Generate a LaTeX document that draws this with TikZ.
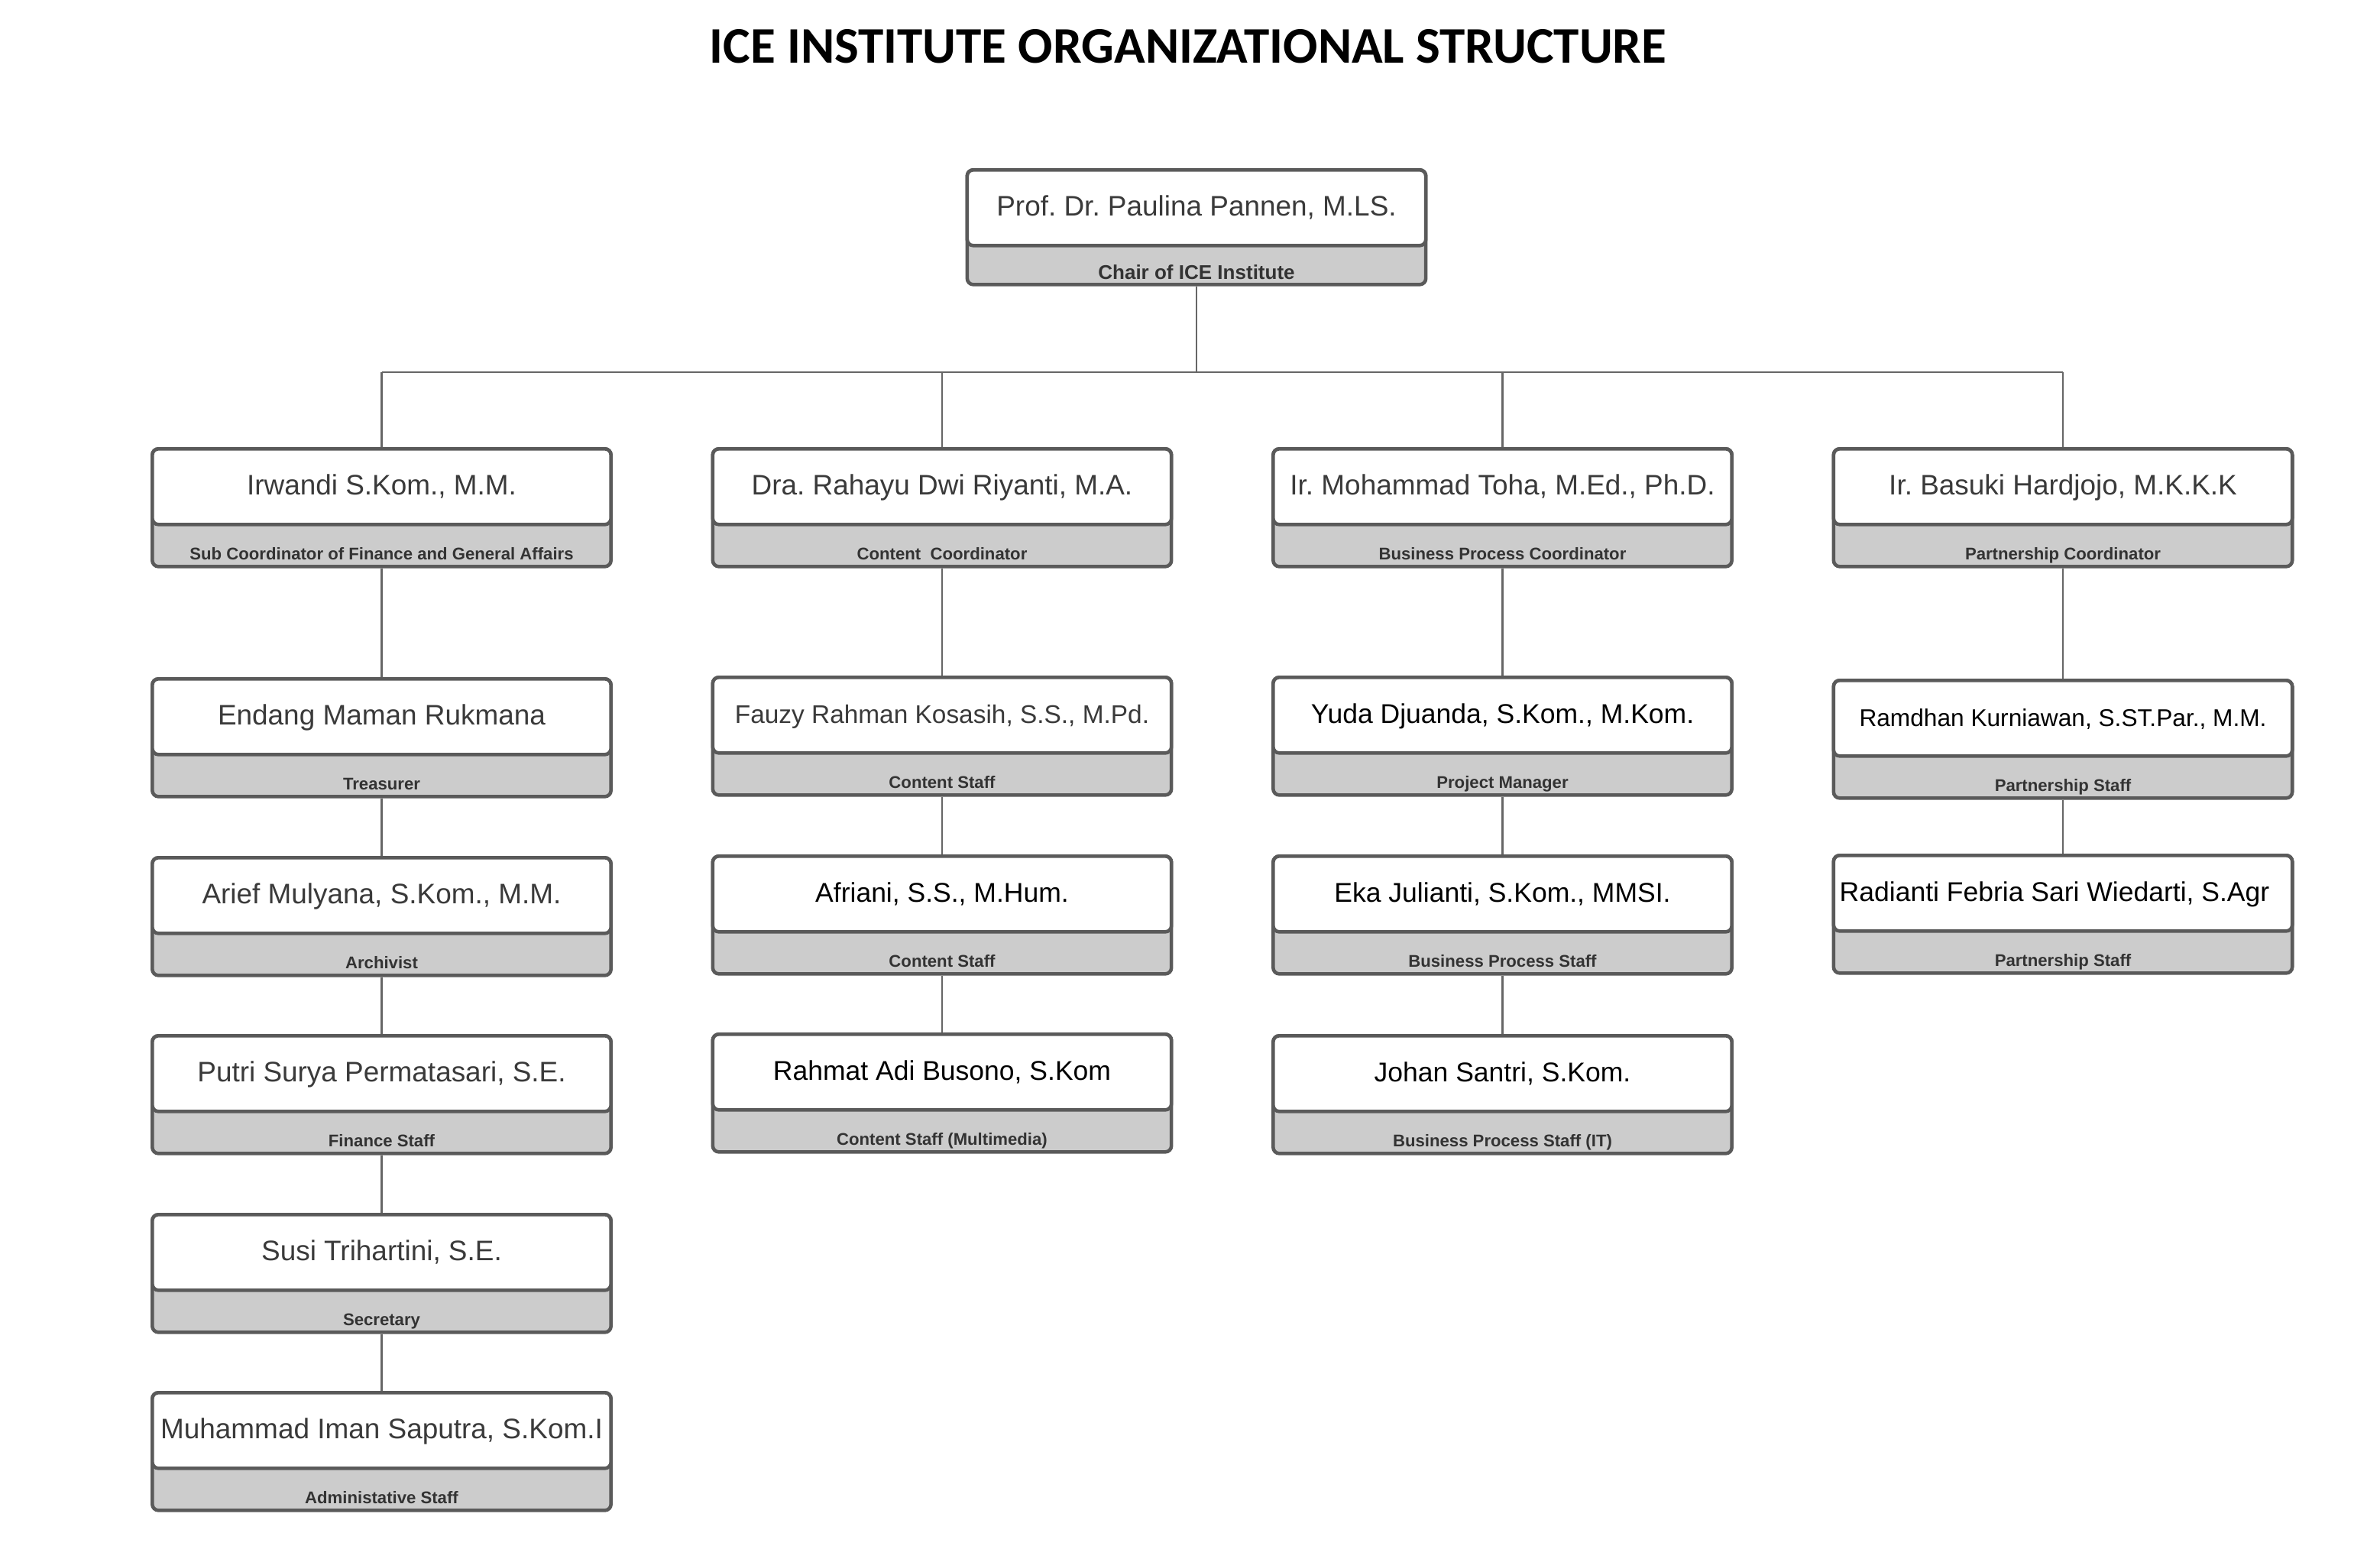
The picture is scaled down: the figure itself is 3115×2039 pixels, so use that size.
\documentclass[tikz,border=0pt]{standalone}
\usepackage{fontspec}
\setmainfont{Liberation Sans}
\newfontfamily\headfont{Carlito}
\usepackage{xcolor}
\usepackage{tikz}
\usetikzlibrary{calc}
\definecolor{boxline}{HTML}{5A5A5A}
\definecolor{bandgray}{HTML}{CCCCCC}
\definecolor{linkgray}{HTML}{666666}
\definecolor{namegray}{HTML}{3A3A3A}
\definecolor{rolegray}{HTML}{333333}
\frenchspacing

\begin{document}
\begin{tikzpicture}[x=0.01cm, y=-0.01cm,
  band/.style={draw=boxline, line width=1.3pt, rounded corners=2.3pt, fill=bandgray, minimum width=6.0cm, minimum height=1.54cm, anchor=north, inner sep=0pt},
  card/.style={draw=boxline, line width=1.3pt, rounded corners=2.3pt, fill=white, minimum width=6.0cm, minimum height=0.99cm, anchor=north, inner sep=0pt, text=namegray, font={\fontsize{10.5}{12.6}\selectfont}, text height=0.27cm, text depth=0.06cm},
  blackname/.style={text=black, font={\fontsize{10.1}{12}\selectfont}},
  role/.style={anchor=base, inner sep=0pt, text=rolegray, font={\bfseries\fontsize{6.3}{8}\selectfont}},
  link/.style={draw=linkgray, line width=0.6pt}]
  \useasboundingbox (0,0) rectangle (3115,2039);
  \node[font={\headfont\bfseries\fontsize{19.1}{23}\selectfont}] (title) at (1555,61) {ICE INSTITUTE ORGANIZATIONAL STRUCTURE};
  % chair
  \node[band, minimum height=1.50cm] (paulina) at (1566,220) {};
  \node[card] (paulina-n) at (paulina.north) {Prof. Dr. Paulina Pannen, M.LS.};
  \node[role, font={\bfseries\fontsize{7.4}{9}\selectfont}] (paulina-r) at ([yshift=0.09cm]paulina.south) {Chair of ICE Institute};
  % coordinators
  \node[band] (irwandi) at (499.5,585) {};
  \node[card] (irwandi-n) at (irwandi.north) {Irwandi S.Kom., M.M.};
  \node[role] (irwandi-r) at ([yshift=0.11cm]irwandi.south) {Sub Coordinator of Finance and General Affairs};
  \node[band] (rahayu) at (1233,585) {};
  \node[card] (rahayu-n) at (rahayu.north) {Dra. Rahayu Dwi Riyanti, M.A.};
  \node[role] (rahayu-r) at ([yshift=0.11cm]rahayu.south) {Content\ \ Coordinator};
  \node[band] (toha) at (1966.5,585) {};
  \node[card] (toha-n) at (toha.north) {Ir. Mohammad Toha, M.Ed., Ph.D.};
  \node[role] (toha-r) at ([yshift=0.11cm]toha.south) {Business Process Coordinator};
  \node[band] (basuki) at (2700,585) {};
  \node[card] (basuki-n) at (basuki.north) {Ir. Basuki Hardjojo, M.K.K.K};
  \node[role] (basuki-r) at ([yshift=0.11cm]basuki.south) {Partnership Coordinator};
  % finance and general affairs
  \node[band] (endang) at (499.5,886) {};
  \node[card] (endang-n) at (endang.north) {Endang Maman Rukmana};
  \node[role] (endang-r) at ([yshift=0.11cm]endang.south) {Treasurer};
  \node[band] (arief) at (499.5,1120) {};
  \node[card] (arief-n) at (arief.north) {Arief Mulyana, S.Kom., M.M.};
  \node[role] (arief-r) at ([yshift=0.11cm]arief.south) {Archivist};
  \node[band] (putri) at (499.5,1353) {};
  \node[card] (putri-n) at (putri.north) {Putri Surya Permatasari, S.E.};
  \node[role] (putri-r) at ([yshift=0.11cm]putri.south) {Finance Staff};
  \node[band] (susi) at (499.5,1587) {};
  \node[card] (susi-n) at (susi.north) {Susi Trihartini, S.E.};
  \node[role] (susi-r) at ([yshift=0.11cm]susi.south) {Secretary};
  \node[band] (iman) at (499.5,1820) {};
  \node[card] (iman-n) at (iman.north) {Muhammad Iman Saputra, S.Kom.I};
  \node[role] (iman-r) at ([yshift=0.11cm]iman.south) {Administative Staff};
  % content
  \node[band] (fauzy) at (1233,884) {};
  \node[card, font={\fontsize{9.5}{11.4}\selectfont}] (fauzy-n) at (fauzy.north) {Fauzy Rahman Kosasih, S.S., M.Pd.};
  \node[role] (fauzy-r) at ([yshift=0.11cm]fauzy.south) {Content Staff};
  \node[band] (afriani) at (1233,1118) {};
  \node[card, blackname] (afriani-n) at (afriani.north) {Afriani, S.S., M.Hum.};
  \node[role] (afriani-r) at ([yshift=0.11cm]afriani.south) {Content Staff};
  \node[band] (rahmat) at (1233,1351) {};
  \node[card, blackname] (rahmat-n) at (rahmat.north) {Rahmat Adi Busono, S.Kom};
  \node[role] (rahmat-r) at ([yshift=0.11cm]rahmat.south) {Content Staff (Multimedia)};
  % business process
  \node[band] (yuda) at (1966.5,884) {};
  \node[card, blackname] (yuda-n) at (yuda.north) {Yuda Djuanda, S.Kom., M.Kom.};
  \node[role] (yuda-r) at ([yshift=0.11cm]yuda.south) {Project Manager};
  \node[band] (eka) at (1966.5,1118) {};
  \node[card, blackname] (eka-n) at (eka.north) {Eka Julianti, S.Kom., MMSI.};
  \node[role] (eka-r) at ([yshift=0.11cm]eka.south) {Business Process Staff};
  \node[band] (johan) at (1966.5,1353) {};
  \node[card, blackname] (johan-n) at (johan.north) {Johan Santri, S.Kom.};
  \node[role] (johan-r) at ([yshift=0.11cm]johan.south) {Business Process Staff (IT)};
  % partnership
  \node[band] (ramdhan) at (2700,888) {};
  \node[card, blackname, font={\fontsize{9}{10.8}\selectfont}] (ramdhan-n) at (ramdhan.north) {Ramdhan Kurniawan, S.ST.Par., M.M.};
  \node[role] (ramdhan-r) at ([yshift=0.11cm]ramdhan.south) {Partnership Staff};
  \node[band] (radianti) at (2700,1117) {};
  \node[card, blackname] (radianti-n) at (radianti.north) {Radianti Febria Sari Wiedarti, S.Agr\hspace*{0.22cm}};
  \node[role] (radianti-r) at ([yshift=0.11cm]radianti.south) {Partnership Staff};
  % links
  \coordinate (bus) at (1566,487);
  \draw[link] (paulina.south) -- (bus);
  \draw[link] (irwandi.north |- bus) -- (basuki.north |- bus);
  \foreach \n in {irwandi,rahayu,toha,basuki}
    \draw[link] (\n.north |- bus) -- (\n.north);
  \draw[link] (irwandi.south) -- (endang.north);
  \draw[link] (endang.south) -- (arief.north);
  \draw[link] (arief.south) -- (putri.north);
  \draw[link] (putri.south) -- (susi.north);
  \draw[link] (susi.south) -- (iman.north);
  \draw[link] (rahayu.south) -- (fauzy.north);
  \draw[link] (fauzy.south) -- (afriani.north);
  \draw[link] (afriani.south) -- (rahmat.north);
  \draw[link] (toha.south) -- (yuda.north);
  \draw[link] (yuda.south) -- (eka.north);
  \draw[link] (eka.south) -- (johan.north);
  \draw[link] (basuki.south) -- (ramdhan.north);
  \draw[link] (ramdhan.south) -- (radianti.north);
\end{tikzpicture}
\end{document}
